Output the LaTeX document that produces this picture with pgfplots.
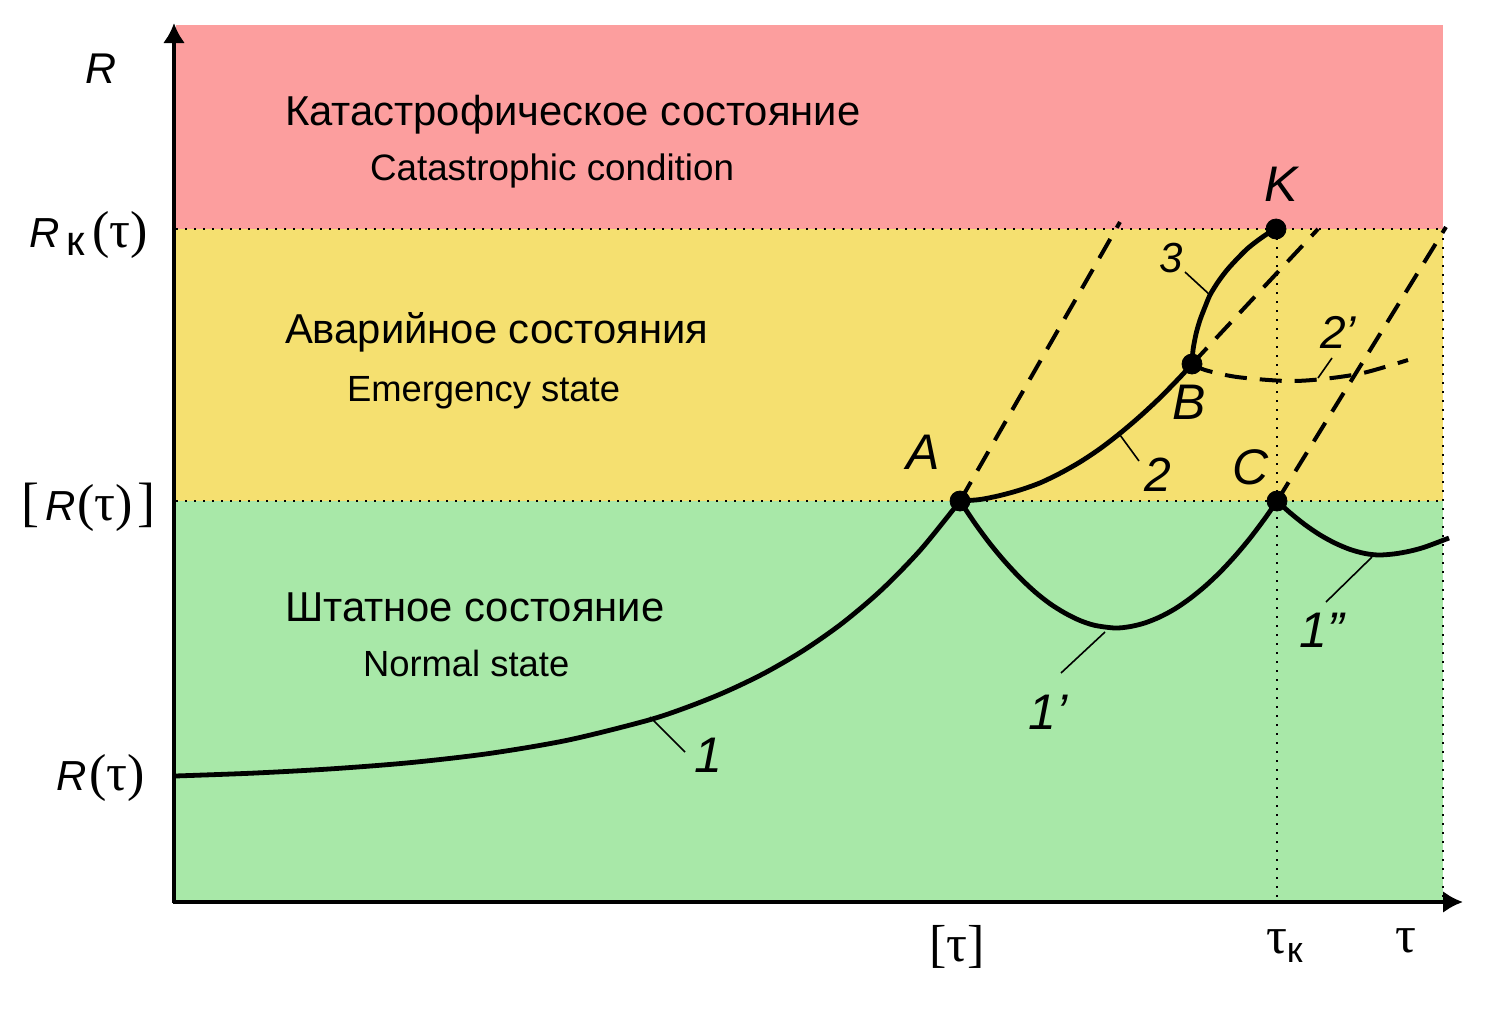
\documentclass[border=0pt]{standalone}
\usepackage{fontspec}
\setmainfont{Liberation Sans}
\newfontfamily\serif{Liberation Serif}
\usepackage{pgfplots}
\pgfplotsset{compat=1.18}
\usetikzlibrary{arrows.meta}
\definecolor{pinkc}{RGB}{252,158,158}
\definecolor{yellowc}{RGB}{245,224,112}
\definecolor{greenc}{RGB}{168,232,168}
\newcommand{\sz}[1]{\fontsize{#1bp}{#1bp}\selectfont}
\tikzset{lbl/.style={inner sep=0pt, outer sep=0pt, text=black}}
\begin{document}
\begin{tikzpicture}
\begin{axis}[
  at={(0,0)}, anchor=south west,
  width=750bp, height=507bp, scale only axis,
  xmin=0, xmax=1500, ymin=0, ymax=1014, y dir=reverse,
  hide axis, clip=false,
]
\path (axis cs:0,0) rectangle (axis cs:1500,1014);
% regions
\addplot[fill=pinkc, draw=none] coordinates {(176,25)(1443,25)(1443,229)(176,229)} -- cycle;
\addplot[fill=yellowc, draw=none] coordinates {(176,229)(1443,229)(1443,501)(176,501)} -- cycle;
\addplot[fill=greenc, draw=none] coordinates {(176,501)(1443,501)(1443,902)(176,902)} -- cycle;
% dotted lines
\addplot[line width=1.1bp, dash pattern=on 1.1bp off 3.4bp] coordinates {(176,229)(1443,229)};
\addplot[line width=1.1bp, dash pattern=on 1.1bp off 3.4bp] coordinates {(176,501)(1443,501)};
\addplot[line width=1.1bp, dash pattern=on 1.1bp off 3.4bp] coordinates {(1277,229)(1277,902)};
\addplot[line width=1.1bp, dash pattern=on 1.1bp off 3.4bp] coordinates {(1443,229)(1443,902)};
% dashed lines
\addplot[line width=2bp, dash pattern=on 11bp off 6.5bp] coordinates {(960,501)(1120,222)};
\addplot[line width=2bp, dash pattern=on 11bp off 6.5bp] coordinates {(1192,364)(1318,229)};
\addplot[line width=2bp, dash pattern=on 11bp off 6.5bp] coordinates {(1277,501)(1446,227)};
% curve 2'
\addplot[line width=2bp, dash pattern=on 11bp off 6.5bp, smooth] coordinates {(1192,364)(1205,370)(1237,377)(1287,381)(1323,379)(1363,373)(1408,360)};
% curve 1
\addplot[line width=2.4bp, smooth] coordinates {(175,776)(253.5,773.1)(332,768.8)(410.5,762.6)(489,753.5)(567.5,740.2)(646,720.8)(685.25,707.9)(724.5,692.3)(763.75,673.5)(803,650.7)(842.25,623.2)(881.5,589.9)(920.75,549.6)(960,501)};
% curve 1'
\addplot[line width=2.4bp, smooth] coordinates {(960,501)(975,523.4)(990,543.7)(1005,561.7)(1020,577.8)(1035,591.9)(1050,603.7)(1065,613.1)(1080,620.5)(1095,625.4)(1115,628)(1130,626.6)(1145,622.9)(1160,616.9)(1175,608.8)(1190,598.5)(1205,586.3)(1220,572.2)(1235,556.1)(1250,538.2)(1265,518.3)(1277,501)};
% curve 1''
\addplot[line width=2.4bp, smooth] coordinates {(1277,501)(1290,512.7)(1305,524.7)(1320,534.9)(1335,543.1)(1350,549.4)(1365,553.5)(1379,555)(1395,553.8)(1410,551.1)(1425,547)(1449,538)};
% curve 2
\addplot[line width=2.4bp, smooth] coordinates {(960,501)(980,499.5)(1000,495.5)(1020,490)(1040,482.9)(1060,473.3)(1080,462)(1100,448.7)(1120,433.3)(1140,416.3)(1160,397.7)(1180,377.2)(1192,364)};
% curve 3
\addplot[line width=2.4bp, smooth] coordinates {(1192,364)(1193,350)(1196,334)(1200,320)(1205,307)(1210,295)(1218,282)(1227,270)(1237,259)(1247,249)(1257,241)(1267,234)(1276,229)};
% leaders
\addplot[line width=0.8bp] coordinates {(650,717)(685,752)};
\addplot[line width=0.8bp] coordinates {(1105,632)(1061,673)};
\addplot[line width=0.8bp] coordinates {(1372,557)(1326,602)};
\addplot[line width=0.8bp] coordinates {(1120,435)(1139,461)};
\addplot[line width=0.8bp] coordinates {(1318,378)(1332,358)};
\addplot[line width=0.8bp] coordinates {(1185,272)(1210,295)};
% dots
\addplot[only marks, mark=*, mark size=5bp, black] coordinates {(960,501)(1192,364)(1277,501)(1276,229)};
% axes
\addplot[line width=1.8bp, -{Latex[length=10bp,width=11bp]}] coordinates {(174,903)(174,23)};
\addplot[line width=1.8bp, -{Latex[length=10bp,width=11bp]}] coordinates {(173,902)(1463,902)};
% region texts
\node[lbl, anchor=base west] at (axis cs:285,125) {\sz{20.9}Катастрофическое состояние};
\node[lbl, anchor=base west] at (axis cs:370,180) {\sz{18.4}Catastrophic condition};
\node[lbl, anchor=base west] at (axis cs:285,343) {\sz{20.9}Аварийное состояния};
\node[lbl, anchor=base west] at (axis cs:347,401) {\sz{18.2}Emergency state};
\node[lbl, anchor=base west] at (axis cs:285,621) {\sz{20.9}Штатное состояние};
\node[lbl, anchor=base west] at (axis cs:363,676) {\sz{18.2}Normal state};
% point labels
\node[lbl] at (axis cs:923,452) {\sz{25}\itshape A};
\node[lbl] at (axis cs:1189,402) {\sz{25}\itshape B};
\node[lbl] at (axis cs:1251,467) {\sz{25}\itshape C};
\node[lbl] at (axis cs:1281,184) {\sz{25}\itshape K};
\node[lbl] at (axis cs:708,755) {\sz{25}\itshape 1};
\node[lbl] at (axis cs:1048,712) {\sz{25}\itshape 1’};
\node[lbl] at (axis cs:1322,630) {\sz{25}\itshape 1”};
\node[lbl] at (axis cs:1158,475) {\sz{24}\itshape 2};
\node[lbl] at (axis cs:1338,332) {\sz{23}\itshape 2’};
\node[lbl] at (axis cs:1171,258) {\sz{21}\itshape 3};
% axis labels
\node[lbl, anchor=base west] at (axis cs:85,83) {\sz{21.5}\itshape R};
\node[lbl, anchor=base east] at (axis cs:148,247) {{\sz{21}\itshape R}\hspace{3bp}\raisebox{-4bp}{\sz{21}к}\hspace{4bp}{\serif\sz{26}(τ)}};
\node[lbl, anchor=base east] at (axis cs:155,520) {{\serif\sz{27}[}\hspace{3bp}{\sz{21}\itshape R}\hspace{1bp}{\serif\sz{26}(τ)}\hspace{2bp}{\serif\sz{27}]}};
\node[lbl, anchor=base east] at (axis cs:145,790) {{\sz{21}\itshape R}\hspace{1.5bp}{\serif\sz{26}(τ)}};
\node[lbl, anchor=base] at (axis cs:957,961) {\serif\sz{26}[τ]};
\node[lbl, anchor=base west] at (axis cs:1266,953) {{\serif\sz{26}τ}\raisebox{-4.5bp}{\sz{18}к}};
\node[lbl, anchor=base west] at (axis cs:1395,952) {\serif\sz{26}τ};
\end{axis}
\end{tikzpicture}
\end{document}
